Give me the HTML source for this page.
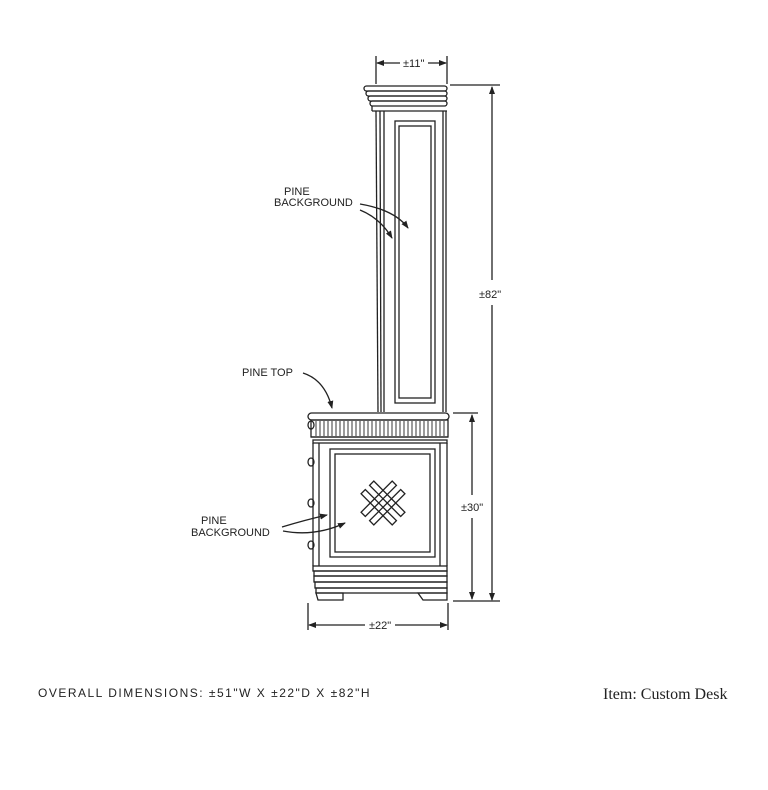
<!DOCTYPE html>
<html><head><meta charset="utf-8"><style>
html,body{margin:0;padding:0;background:#fff;}
svg{display:block}
text{font-family:"Liberation Sans",sans-serif;fill:#222}
</style></head><body>
<svg width="768" height="790" viewBox="0 0 768 790" xmlns="http://www.w3.org/2000/svg">
<defs><marker id="a" markerWidth="8" markerHeight="8" refX="7" refY="4" orient="auto" markerUnits="userSpaceOnUse"><path d="M0,1 L8,4 L0,7 Z" fill="#222"/></marker></defs>
<g stroke="#222" stroke-width="1.3" fill="none">
<rect x="364" y="86" width="83" height="5" rx="2.5"/>
<rect x="366" y="91" width="81" height="5" rx="2.5"/>
<rect x="368" y="96" width="79" height="5" rx="2.5"/>
<rect x="370" y="101" width="77" height="5" rx="2.5"/>
<line x1="372" y1="111" x2="447" y2="111"/>
<line x1="372" y1="106" x2="372" y2="111"/>
<line x1="376" y1="111" x2="378" y2="412"/>
<line x1="380" y1="111" x2="381" y2="412"/>
<line x1="384" y1="111" x2="384" y2="412"/>
<line x1="443" y1="111" x2="443" y2="412"/>
<line x1="446" y1="111" x2="446" y2="412"/>
<rect x="395" y="121" width="40" height="282"/>
<rect x="399" y="126" width="32" height="272"/>
<rect x="308" y="413" width="141" height="7" rx="3.5"/>
<rect x="311" y="420" width="137" height="17"/>
<line x1="311" y1="437" x2="448" y2="437"/>
<rect x="313" y="440" width="134" height="3"/>
<line x1="313" y1="443" x2="313" y2="566"/>
<line x1="319" y1="443" x2="319" y2="566"/>
<line x1="440" y1="443" x2="440" y2="566"/>
<line x1="447" y1="443" x2="447" y2="566"/>
<rect x="330" y="449" width="105" height="108"/>
<rect x="335" y="454" width="95" height="98"/>
<rect x="313" y="566" width="134" height="5"/>
<rect x="314" y="571" width="133" height="5"/>
<rect x="314" y="576" width="133" height="6"/>
<rect x="315" y="582" width="132" height="6"/>
<rect x="316" y="588" width="131" height="5"/>
<path d="M316 593 L343 593 L343 600 L318 600 Z"/>
<path d="M418 593 L447 593 L447 600 L423 600 Z"/>
<ellipse cx="311" cy="425" rx="3" ry="4"/>
<ellipse cx="311" cy="462" rx="3" ry="4"/>
<ellipse cx="311" cy="503" rx="3" ry="4"/>
<ellipse cx="311" cy="545" rx="3" ry="4"/>
<g transform="translate(383,503) rotate(45)">
<rect x="-22" y="-9" width="44" height="6"/>
<rect x="-22" y="3" width="44" height="6"/>
<rect x="-9" y="-22" width="6" height="44"/>
<rect x="3" y="-22" width="6" height="44"/>
</g>
<path d="M316 421v15M320 421v15M324 421v15M328 421v15M332 421v15M336 421v15M340 421v15M344 421v15M348 421v15M352 421v15M356 421v15M360 421v15M364 421v15M368 421v15M372 421v15M376 421v15M380 421v15M384 421v15M388 421v15M392 421v15M396 421v15M400 421v15M404 421v15M408 421v15M412 421v15M416 421v15M420 421v15M424 421v15M428 421v15M432 421v15M436 421v15M440 421v15M444 421v15" stroke-width="0.9"/>
<line x1="376" y1="56" x2="376" y2="84"/><line x1="447" y1="56" x2="447" y2="84"/>
<line x1="400" y1="63" x2="377" y2="63" marker-end="url(#a)"/>
<line x1="428" y1="63" x2="446" y2="63" marker-end="url(#a)"/>
<line x1="450" y1="85" x2="500" y2="85"/>
<line x1="492" y1="280" x2="492" y2="87" marker-end="url(#a)"/>
<line x1="492" y1="305" x2="492" y2="600" marker-end="url(#a)"/>
<line x1="453" y1="413" x2="478" y2="413"/>
<line x1="453" y1="601" x2="500" y2="601"/>
<line x1="472" y1="495" x2="472" y2="415" marker-end="url(#a)"/>
<line x1="472" y1="518" x2="472" y2="599" marker-end="url(#a)"/>
<line x1="308" y1="603" x2="308" y2="630"/><line x1="448" y1="603" x2="448" y2="630"/>
<line x1="365" y1="625" x2="309" y2="625" marker-end="url(#a)"/>
<line x1="395" y1="625" x2="447" y2="625" marker-end="url(#a)"/>
<path d="M360 204 Q395 210 408 228" marker-end="url(#a)"/>
<path d="M360 210 Q380 218 392 238" marker-end="url(#a)"/>
<path d="M303 373 Q325 380 332 408" marker-end="url(#a)"/>
<path d="M282 527 Q305 520 327 515" marker-end="url(#a)"/>
<path d="M283 531 Q315 537 345 523" marker-end="url(#a)"/>
</g>
<g font-size="11">
<text x="284" y="195">PINE</text>
<text x="274" y="206">BACKGROUND</text>
<text x="242" y="376">PINE TOP</text>
<text x="201" y="524">PINE</text>
<text x="191" y="536">BACKGROUND</text>
<text x="403" y="67">±11"</text>
<text x="479" y="298">±82"</text>
<text x="461" y="511">±30"</text>
<text x="369" y="629">±22"</text>
<text x="38" y="697" font-size="12" letter-spacing="1.5">OVERALL  DIMENSIONS:  ±51"W  X  ±22"D  X  ±82"H</text>
</g>
<text x="603" y="699" font-size="16" style="font-family:'Liberation Serif',serif">Item: Custom Desk</text>
</svg>
</body></html>
